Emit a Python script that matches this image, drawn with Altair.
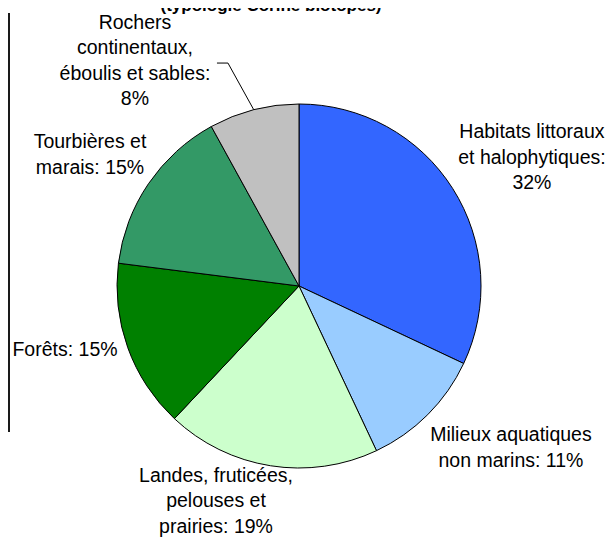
import math
import altair as alt
import pandas as pd

# ---- data ----
categories = [
    "Habitats littoraux et halophytiques",
    "Milieux aquatiques non marins",
    "Landes, fruticées, pelouses et prairies",
    "Forêts",
    "Tourbières et marais",
    "Rochers continentaux, éboulis et sables",
]
values = [32, 11, 19, 15, 15, 8]
label_lines = [
    ["Habitats littoraux", "et halophytiques:", "32%"],
    ["Milieux aquatiques", "non marins: 11%"],
    ["Landes, fruticées,", "pelouses et", "prairies: 19%"],
    ["Forêts: 15%"],
    ["Tourbières et", "marais: 15%"],
    ["Rochers", "continentaux,", "éboulis et sables:", "8%"],
]
colors = ["#3366FF", "#99CCFF", "#CCFFCC", "#008000", "#339966", "#C0C0C0"]
title_text = "(typologie Corine biotopes)"

# ---- layout (styling, not data) ----
W, H = 598, 530
CX, CY, R = 291, 278, 182
label_radius = [265.8, 266.8, 230.5, 242.6, 246.7, 278.4]
label_shift_deg = [3.6, -7.6, 12.1, 4.5, -2.1, -21.7]
FONT = "Liberation Sans"
LH = 25.5

total = sum(values)
cum = 0
rows = []
for i, (c, v) in enumerate(zip(categories, values)):
    mid = (cum + v / 2) / total * 360
    cum += v
    a = math.radians(mid + label_shift_deg[i])
    n = len(label_lines[i])
    cx_l = CX + label_radius[i] * math.sin(a)
    cy_l = CY - label_radius[i] * math.cos(a)
    rows.append({
        "idx": i, "category": c, "value": v,
        "label": "\n".join(label_lines[i]),
        "mid": mid,
        "cx": cx_l, "cy": cy_l,
        "lx": cx_l,
        "ly": cy_l - (n - 1) * LH / 2,
    })
df = pd.DataFrame(rows)

# leader line for the small slice (last one)
last = rows[-1]
am = math.radians(last["mid"])
edge = (CX + R * math.sin(am), CY - R * math.cos(am))
elbow = (last["cx"] + 93, last["cy"] + 2)
end = (last["cx"] + 82, last["cy"] + 2)
leader = pd.DataFrame({"o": [0, 1, 2], "x": [edge[0], elbow[0], end[0]],
                       "y": [edge[1], elbow[1], end[1]]})

pie = alt.Chart(df).mark_arc(stroke="black", strokeWidth=1, outerRadius=R).encode(
    theta=alt.Theta("value:Q", stack=True),
    order=alt.Order("idx:Q", sort="ascending"),
    color=alt.Color("category:N", scale=alt.Scale(domain=categories, range=colors), legend=None),
    x=alt.value(CX),
    y=alt.value(CY),
)

labels = alt.Chart(df).mark_text(
    font=FONT, fontSize=19.5, lineBreak="\n", lineHeight=LH,
    align="center", baseline="middle", color="black",
).encode(
    x=alt.X("lx:Q", scale=None, axis=None),
    y=alt.Y("ly:Q", scale=None, axis=None),
    text="label:N",
)

lead = alt.Chart(leader).mark_line(color="black", strokeWidth=1).encode(
    x=alt.X("x:Q", scale=None, axis=None),
    y=alt.Y("y:Q", scale=None, axis=None),
    order="o:Q",
)

title = alt.Chart(pd.DataFrame({"t": [title_text]})).mark_text(
    font=FONT, fontSize=17, fontWeight="bold", align="center",
    baseline="alphabetic", color="black",
).encode(x=alt.value(263), y=alt.value(3), text="t:N")

border = alt.Chart(pd.DataFrame({"a": [0]})).mark_rule(color="#1a1a1a", strokeWidth=2).encode(
    x=alt.value(1), y=alt.value(5), y2=alt.value(424),
)

chart = alt.layer(pie, lead, labels, title, border).properties(
    width=W, height=H, padding=0,
    autosize=alt.AutoSizeParams(type="none"),
    background="white",
).configure_view(stroke=None)

chart.save("out.html", embed_options={"renderer": "svg", "actions": False})
